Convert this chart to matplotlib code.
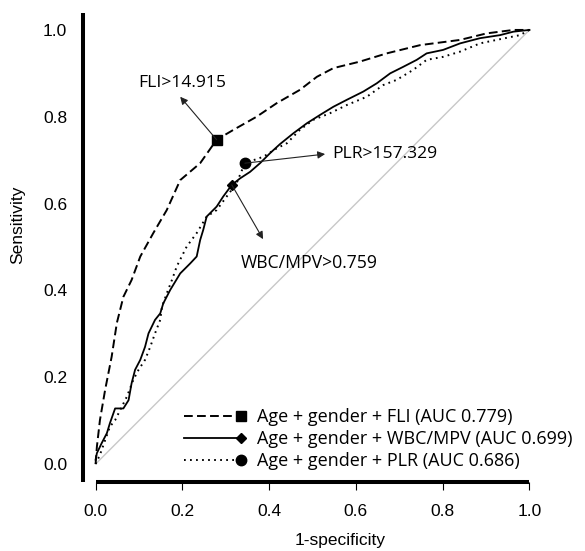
import matplotlib
matplotlib.use('Agg')
import matplotlib.pyplot as plt
from matplotlib.lines import Line2D
from matplotlib.legend_handler import HandlerLine2D

# ROC curves (1-specificity, sensitivity)
fli_x = [0, 0.003, 0.010, 0.022, 0.037, 0.049, 0.064, 0.083, 0.103, 0.133, 0.164, 0.195,
         0.241, 0.279, 0.318, 0.371, 0.417, 0.471, 0.510, 0.548, 0.609, 0.671, 0.748,
         0.840, 0.901, 0.963, 1.0]
fli_y = [0, 0.040, 0.101, 0.171, 0.247, 0.325, 0.385, 0.424, 0.478, 0.532, 0.585, 0.654,
         0.693, 0.747, 0.770, 0.800, 0.831, 0.862, 0.892, 0.912, 0.927, 0.946, 0.965,
         0.977, 0.992, 1.0, 1.0]

wbc_x = [0, 0.003, 0.014, 0.026, 0.033, 0.045, 0.064, 0.076, 0.083, 0.091, 0.103, 0.114,
         0.122, 0.137, 0.149, 0.156, 0.172, 0.195, 0.218, 0.233, 0.241, 0.248, 0.256,
         0.279, 0.294, 0.314, 0.333, 0.356, 0.379, 0.402, 0.425, 0.456, 0.487, 0.517,
         0.548, 0.579, 0.617, 0.648, 0.679, 0.709, 0.740, 0.763, 0.801, 0.840, 0.886,
         0.932, 0.963, 1.0]
wbc_y = [0.01, 0.025, 0.048, 0.071, 0.094, 0.128, 0.128, 0.147, 0.186, 0.217, 0.240, 0.270,
         0.301, 0.332, 0.347, 0.370, 0.401, 0.439, 0.462, 0.478, 0.516, 0.539, 0.570,
         0.593, 0.616, 0.643, 0.658, 0.673, 0.693, 0.716, 0.737, 0.762, 0.785, 0.804,
         0.823, 0.839, 0.858, 0.877, 0.900, 0.915, 0.931, 0.946, 0.954, 0.969, 0.981,
         0.988, 0.996, 1.0]

plr_x = [0, 0.010, 0.022, 0.033, 0.045, 0.053, 0.072, 0.087, 0.099, 0.114, 0.126, 0.137,
         0.149, 0.153, 0.164, 0.176, 0.187, 0.210, 0.233, 0.256, 0.279, 0.302, 0.325,
         0.344, 0.387, 0.417, 0.441, 0.471, 0.502, 0.540, 0.579, 0.625, 0.663, 0.694,
         0.732, 0.763, 0.801, 0.840, 0.886, 0.924, 0.978, 1.0]
plr_y = [0, 0.021, 0.055, 0.086, 0.101, 0.117, 0.155, 0.194, 0.217, 0.240, 0.270, 0.301,
         0.332, 0.362, 0.393, 0.424, 0.455, 0.501, 0.532, 0.570, 0.585, 0.616, 0.647,
         0.693, 0.708, 0.727, 0.739, 0.770, 0.793, 0.808, 0.827, 0.846, 0.873, 0.885,
         0.908, 0.931, 0.938, 0.950, 0.969, 0.977, 0.988, 1.0]

# index of the optimal cut-off point on each curve
fli_cut = 13
wbc_cut = 25
plr_cut = 23

labels = ['Age + gender + FLI (AUC 0.779)',
          'Age + gender + WBC/MPV (AUC 0.699)',
          'Age + gender + PLR (AUC 0.686)']
cut_texts = ['FLI>14.915', 'WBC/MPV>0.759', 'PLR>157.329']
text_pos = [(0.20, 0.878), (0.335, 0.463), (0.545, 0.714)]
arrow_end = [(0.195, 0.846), (0.386, 0.518), (0.529, 0.714)]

txt_font = ['Open Sans', 'DejaVu Sans']
num_font = ['Liberation Sans', 'DejaVu Sans']


class EndMarker(HandlerLine2D):
    # legend line with the marker only at its right end
    def create_artists(self, legend, orig, xd, yd, w, h, fontsize, trans):
        y = h / 2 - yd
        line = Line2D([-xd, -xd + w], [y, y])
        self.update_prop(line, orig, legend)
        line.set_marker('None')
        mk = Line2D([-xd + w], [y])
        self.update_prop(mk, orig, legend)
        mk.set_markevery(None)
        mk.set_linestyle('None')
        line.set_transform(trans)
        mk.set_transform(trans)
        return [line, mk]


fig = plt.figure(figsize=(5.85, 5.51), dpi=100)
ax = fig.add_axes([0.1419, 0.1252, 0.7706, 0.8512])

ax.plot([0, 1], [0, 1], color='#c8c8c8', lw=1.0, zorder=1)

l1, = ax.plot(fli_x, fli_y, color='black', lw=1.4, dashes=(4.5, 2.2),
              marker='s', ms=7, markevery=[fli_cut], label=labels[0])
l2, = ax.plot(wbc_x, wbc_y, color='black', lw=1.3, ls='-',
              marker='D', ms=5.5, markevery=[wbc_cut], label=labels[1])
l3, = ax.plot(plr_x, plr_y, color='black', lw=1.4, ls=(0, (0.9, 2.2)),
              marker='o', ms=7.5, markevery=[plr_cut], label=labels[2])

cuts = [(fli_x[fli_cut], fli_y[fli_cut]), (wbc_x[wbc_cut], wbc_y[wbc_cut]),
        (plr_x[plr_cut], plr_y[plr_cut])]
for (cx, cy), (ex, ey) in zip(cuts, arrow_end):
    ax.annotate('', xy=(ex, ey), xytext=(cx, cy),
                arrowprops=dict(arrowstyle='-|>', lw=0.8, color='#222222',
                                mutation_scale=11, shrinkA=0, shrinkB=0))
ax.text(text_pos[0][0], text_pos[0][1], cut_texts[0], ha='center', va='center',
        fontsize=12.6, family=txt_font)
ax.text(text_pos[1][0], text_pos[1][1], cut_texts[1], ha='left', va='center',
        fontsize=12.7, family=txt_font)
ax.text(text_pos[2][0], text_pos[2][1], cut_texts[2], ha='left', va='center',
        fontsize=12.6, family=txt_font)

leg = ax.legend(handles=[l1, l2, l3], loc='upper left', bbox_to_anchor=(0.224, 0.157),
                frameon=False, borderpad=0, borderaxespad=0, handlelength=3.17,
                handletextpad=0.85, labelspacing=0.22,
                prop={'family': txt_font, 'size': 13},
                handler_map={Line2D: EndMarker()})

ax.set_xlim(-0.029, 1.01)
ax.set_ylim(-0.0415, 1.039)
ax.spines['top'].set_visible(False)
ax.spines['right'].set_visible(False)
for s in ['left', 'bottom']:
    ax.spines[s].set_linewidth(2.9)
    ax.spines[s].set_capstyle('butt')
ax.spines['bottom'].set_bounds(0, 1)

ax.set_xticks([0, 0.2, 0.4, 0.6, 0.8, 1.0])
ax.set_yticks([0, 0.2, 0.4, 0.6, 0.8, 1.0])
ax.set_xticklabels(['0.0', '0.2', '0.4', '0.6', '0.8', '1.0'], family=num_font, fontsize=12.5)
ax.set_yticklabels(['0.0', '0.2', '0.4', '0.6', '0.8', '1.0'], family=num_font, fontsize=12.5)
ax.tick_params(axis='x', direction='out', length=6, width=0.8, pad=10)
ax.tick_params(axis='y', length=0, pad=11.5)

ax.set_xlabel('1-specificity', family=num_font, fontsize=12.5)
ax.set_ylabel('Sensitivity', family=num_font, fontsize=12.5)
ax.xaxis.set_label_coords(0.57, -0.109)
ax.yaxis.set_label_coords(-0.128, 0.548)

fig.savefig('out.png', dpi=100)
